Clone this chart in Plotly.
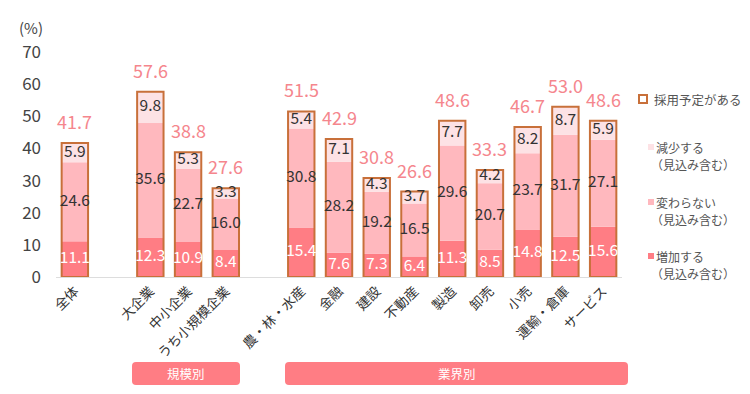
import plotly.graph_objects as go

# ---- data ----
group_names = ["規模別", "業界別"]
cat_all = ["全体"]
cat_size = ["大企業", "中小企業", "うち小規模企業"]
cat_industry = ["農・林・水産", "金融", "建設", "不動産", "製造", "卸売", "小売", "運輸・倉庫", "サービス"]
categories = cat_all + cat_size + cat_industry

total = [41.7, 57.6, 38.8, 27.6, 51.5, 42.9, 30.8, 26.6, 48.6, 33.3, 46.7, 53.0, 48.6]
increase = [11.1, 12.3, 10.9, 8.4, 15.4, 7.6, 7.3, 6.4, 11.3, 8.5, 14.8, 12.5, 15.6]
same = [24.6, 35.6, 22.7, 16.0, 30.8, 28.2, 19.2, 16.5, 29.6, 20.7, 23.7, 31.7, 27.1]
decrease = [5.9, 9.8, 5.3, 3.3, 5.4, 7.1, 4.3, 3.7, 7.7, 4.2, 8.2, 8.7, 5.9]

legend_total = "採用予定がある"
legend_series = ["減少する", "変わらない", "増加する"]
legend_note = "（見込み含む）"

y_ticks = [0, 10, 20, 30, 40, 50, 60, 70]

# ---- styles ----
FONT = "Noto Sans CJK JP"
C_INC = "#ff7d84"
C_SAME = "#ffb8be"
C_DEC = "#fde2e5"
C_LINE = "#c8703a"
C_TOTAL_TXT = "#f5868d"
C_GROUP = "#ff7d84"

# x positions: groups separated by one empty slot
groups = [cat_all, cat_size, cat_industry]
xpos = []
p = 0
for g in groups:
    for _ in g:
        xpos.append(p)
        p += 1
    p += 1
n_slots = xpos[-1] + 1

base_same = [a for a in increase]
base_dec = [a + b for a, b in zip(increase, same)]
mid_inc = [a / 2 for a in increase]
mid_same = [a + b / 2 for a, b in zip(increase, same)]
mid_dec = [a + b / 2 for a, b in zip(base_dec, decrease)]

W = 0.7
SEG_SIZE = 15.5
fig = go.Figure()
fig.add_bar(x=xpos, y=increase, base=[0] * len(xpos), width=W,
            marker=dict(color=C_INC, line=dict(width=0)), showlegend=False, hoverinfo="skip")
fig.add_bar(x=xpos, y=same, base=base_same, width=W,
            marker=dict(color=C_SAME, line=dict(width=0)), showlegend=False, hoverinfo="skip")
fig.add_bar(x=xpos, y=decrease, base=base_dec, width=W,
            marker=dict(color=C_DEC, line=dict(width=0)), showlegend=False, hoverinfo="skip")
fig.add_bar(x=xpos, y=total, base=[0] * len(xpos), width=W,
            marker=dict(color="rgba(0,0,0,0)", line=dict(color=C_LINE, width=2)),
            showlegend=False, hoverinfo="skip")

fmt = lambda v: f"{v:.1f}"
fig.add_scatter(x=xpos, y=mid_inc, mode="text", text=[fmt(v) for v in increase],
                textfont=dict(family=FONT, size=SEG_SIZE, color="white"), showlegend=False, hoverinfo="skip")
fig.add_scatter(x=xpos, y=mid_same, mode="text", text=[fmt(v) for v in same],
                textfont=dict(family=FONT, size=SEG_SIZE, color="#333333"), showlegend=False, hoverinfo="skip")
fig.add_scatter(x=xpos, y=mid_dec, mode="text", text=[fmt(v) for v in decrease],
                textfont=dict(family=FONT, size=SEG_SIZE, color="#333333"), showlegend=False, hoverinfo="skip")

for xv, tv in zip(xpos, total):
    fig.add_annotation(x=xv, y=tv, xref="x", yref="y", text=fmt(tv), showarrow=False,
                       yanchor="middle", yshift=22,
                       font=dict(family=FONT, size=18, color=C_TOTAL_TXT))

# ---- layout geometry ----
L, R, T, B = 56, 128, 52, 117
PW, PH = 750 - L - R, 394 - T - B

def px_x(x):
    return (x - L) / PW

def px_y(y):
    return (394 - B - y) / PH

def rounded(x0, y0, x1, y1, r):
    rx, ry = r / PW, r / PH
    a0, a1 = px_x(x0), px_x(x1)
    b0, b1 = px_y(y1), px_y(y0)
    return (f"M {a0+rx},{b0} L {a1-rx},{b0} Q {a1},{b0} {a1},{b0+ry} "
            f"L {a1},{b1-ry} Q {a1},{b1} {a1-rx},{b1} L {a0+rx},{b1} "
            f"Q {a0},{b1} {a0},{b1-ry} L {a0},{b0+ry} Q {a0},{b0} {a0+rx},{b0} Z")

# group boxes
box_px = [(132, 362, 240, 385), (285, 362, 628, 385)]
for name, (x0, y0, x1, y1) in zip(group_names, box_px):
    fig.add_shape(type="path", xref="paper", yref="paper", path=rounded(x0, y0, x1, y1, 4),
                  fillcolor=C_GROUP, line=dict(width=0), layer="above")
    fig.add_annotation(xref="paper", yref="paper", x=px_x((x0 + x1) / 2), y=px_y((y0 + y1) / 2),
                       text=name, showarrow=False, xanchor="center", yanchor="middle",
                       font=dict(family=FONT, size=12.5, color="white"))

# unit label
fig.add_annotation(xref="paper", yref="paper", x=px_x(31), y=px_y(28), text="(%)",
                   showarrow=False, xanchor="center", yanchor="middle",
                   font=dict(family=FONT, size=15, color="#444444"))

# legend (manual)
LEG_FONT = dict(family=FONT, size=12, color="#555555")
fig.add_shape(type="rect", xref="paper", yref="paper", xsizemode="pixel", ysizemode="pixel",
              xanchor=px_x(643), yanchor=px_y(99), x0=-4, x1=4, y0=-4, y1=4,
              fillcolor="white", line=dict(color=C_LINE, width=2))
fig.add_annotation(xref="paper", yref="paper", x=px_x(652), y=px_y(99), text=legend_total,
                   showarrow=False, xanchor="left", yanchor="middle",
                   font=dict(family=FONT, size=12.5, color="#555555"))
for label, col, ypx in zip(legend_series, [C_DEC, C_SAME, C_INC], [147, 202, 256]):
    fig.add_shape(type="rect", xref="paper", yref="paper", xsizemode="pixel", ysizemode="pixel",
                  xanchor=px_x(651), yanchor=px_y(ypx), x0=-3, x1=3, y0=-3, y1=3,
                  fillcolor=col, line=dict(width=0))
    fig.add_annotation(xref="paper", yref="paper", x=px_x(654), y=px_y(ypx), text=label,
                       showarrow=False, xanchor="left", yanchor="middle", font=LEG_FONT)
    fig.add_annotation(xref="paper", yref="paper", x=px_x(649), y=px_y(ypx + 17.5), text=legend_note,
                       showarrow=False, xanchor="left", yanchor="middle", font=LEG_FONT)

fig.update_layout(
    width=750, height=394,
    margin=dict(l=L, r=R, t=T, b=B),
    paper_bgcolor="white", plot_bgcolor="white",
    barmode="overlay",
    showlegend=False,
    font=dict(family=FONT, color="#333333"),
    xaxis=dict(range=[-0.5, n_slots - 0.5], tickmode="array", tickvals=xpos, ticktext=categories,
               tickangle=-45, tickfont=dict(family=FONT, size=13.5, color="#333333"),
               showline=True, linecolor="#dddddd", linewidth=1, showgrid=False, zeroline=False,
               ticks=""),
    yaxis=dict(range=[0, 70], tickvals=y_ticks, showgrid=False, zeroline=False, showline=False,
               ticks="", ticklabelstandoff=14, tickfont=dict(family=FONT, size=17, color="#444444")),
)

fig.write_html("out.html", config={"displayModeBar": False},
               post_script="document.body.style.margin='0';document.body.style.padding='0';")
